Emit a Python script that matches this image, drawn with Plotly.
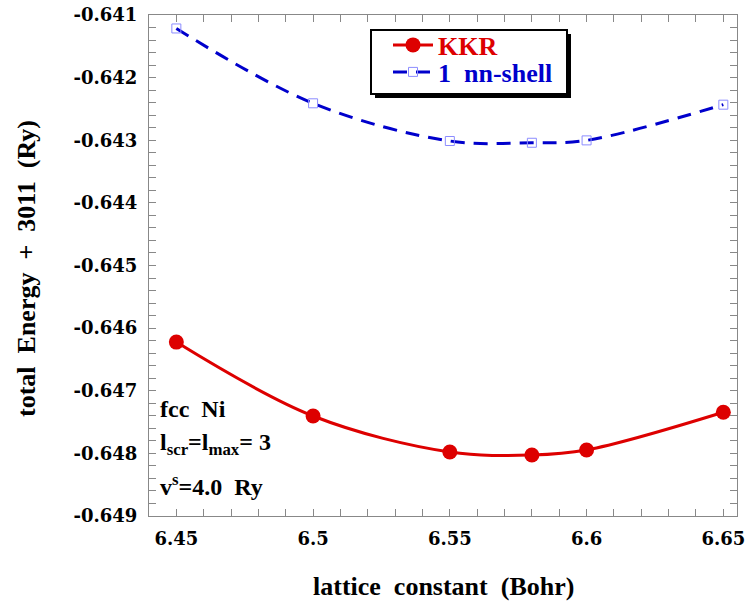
import plotly.graph_objects as go

lattice = [6.45, 6.5, 6.55, 6.58, 6.6, 6.65]
kkr = [-0.646223, -0.647403, -0.647978, -0.648026, -0.647946, -0.647344]
nn_shell = [-0.641215, -0.642410, -0.643012, -0.643040, -0.643002, -0.642432]

x_tickvals = [6.45, 6.5, 6.55, 6.6, 6.65]
x_ticktext = ["6.45", "6.5", "6.55", "6.6", "6.65"]
y_tickvals = [-0.641, -0.642, -0.643, -0.644, -0.645, -0.646, -0.647, -0.648, -0.649]
y_ticktext = ["-0.641", "-0.642", "-0.643", "-0.644", "-0.645", "-0.646", "-0.647", "-0.648", "-0.649"]

SERIF = "Liberation Serif, Times New Roman, serif"
TICKFONT = "DejaVu Serif, serif"

W, H = 747, 607
P_L, P_R, P_T, P_B = 149, 737, 15, 516  # plot box in pixels
ML, MT, MR, MB = P_L, P_T, W - P_R, H - P_B
PW, PH = P_R - P_L, P_B - P_T


def px(x):
    return (x - P_L) / PW


def py(y):
    return (P_B - y) / PH


fig = go.Figure()
fig.add_trace(go.Scatter(
    x=lattice, y=kkr, mode="lines+markers",
    name="<span style='color:#dd0000'>KKR</span>", legend="legend",
    line=dict(color="#dd0000", width=3, shape="spline", smoothing=1.0),
    marker=dict(symbol="circle", size=15, color="#dd0000"),
))
fig.add_trace(go.Scatter(
    x=lattice, y=nn_shell, mode="lines+markers",
    name="<span style='color:#0000cc'>1  nn-shell</span>", legend="legend2",
    line=dict(color="#0000cc", width=3, dash="14px,9px", shape="spline", smoothing=1.0),
    marker=dict(symbol="square-open", size=9, color="#8c8cff", line=dict(width=1)),
))

axis_common = dict(
    showline=True, linecolor="#888888", linewidth=1,
    mirror="ticks", ticks="inside", ticklen=7, tickcolor="#888888",
    showgrid=False, zeroline=False, automargin=False,
    ticklabeloverflow="allow",
    tickfont=dict(family=TICKFONT, size=18, color="black", weight="bold"),
)

fig.update_xaxes(
    range=[6.44, 6.655], tickmode="array", tickvals=x_tickvals, ticktext=x_ticktext,
    minor=dict(dtick=0.01, tick0=6.45, ticks="inside", ticklen=7, tickcolor="#888888"),
    ticklabelstandoff=6,
    **axis_common,
)
fig.update_yaxes(
    range=[-0.649, -0.641], tickmode="array", tickvals=y_tickvals, ticktext=y_ticktext,
    minor=dict(dtick=0.0002, tick0=-0.649, ticks="inside", ticklen=7, tickcolor="#888888"),
    ticklabelstandoff=7,
    **axis_common,
)

# legend box with drop shadow
fig.add_shape(type="rect", xref="paper", yref="paper",
              x0=px(375), x1=px(571), y0=py(98), y1=py(34),
              fillcolor="black", line=dict(width=0), layer="below")
fig.add_shape(type="rect", xref="paper", yref="paper",
              x0=px(371), x1=px(567), y0=py(94), y1=py(30),
              fillcolor="white", line=dict(color="black", width=2), layer="below")

title_font = dict(family=SERIF, size=26, color="black", weight="bold")
ann_font = dict(family=SERIF, size=24, color="black", weight="bold")
leg_common = dict(xanchor="left", yanchor="middle", bgcolor="rgba(0,0,0,0)", borderwidth=0,
                  font=dict(family=SERIF, size=26, weight="bold"), itemwidth=40)

fig.update_layout(
    width=W, height=H,
    margin=dict(l=ML, r=MR, t=MT, b=MB),
    paper_bgcolor="white", plot_bgcolor="white",
    showlegend=True,
    legend=dict(x=px(388), y=py(45), **leg_common),
    legend2=dict(x=px(388), y=py(72), **leg_common),
    annotations=[
        dict(xref="paper", yref="paper", x=px(443), y=py(586),
             xanchor="center", yanchor="middle", showarrow=False,
             text="lattice  constant  (Bohr)", font=title_font),
        dict(xref="paper", yref="paper", x=px(26), y=py(269),
             xanchor="center", yanchor="middle", showarrow=False, textangle=-90,
             text="total  Energy  +  3011  (Ry)", font=title_font),
        dict(xref="paper", yref="paper", x=px(158), y=py(409),
             xanchor="left", yanchor="middle", showarrow=False, align="left",
             text="fcc  Ni", font=ann_font),
        dict(xref="paper", yref="paper", x=px(158), y=py(444),
             xanchor="left", yanchor="middle", showarrow=False, align="left",
             text="l<sub>scr</sub>=l<sub>max</sub>= 3", font=ann_font),
        dict(xref="paper", yref="paper", x=px(158), y=py(485),
             xanchor="left", yanchor="middle", showarrow=False, align="left",
             text="v<sup>s</sup>=4.0  Ry", font=ann_font),
    ],
)

fig.write_html(
    "out.html",
    config={"displayModeBar": False},
    post_script="document.body.style.margin='0';document.body.style.overflow='hidden';",
)
